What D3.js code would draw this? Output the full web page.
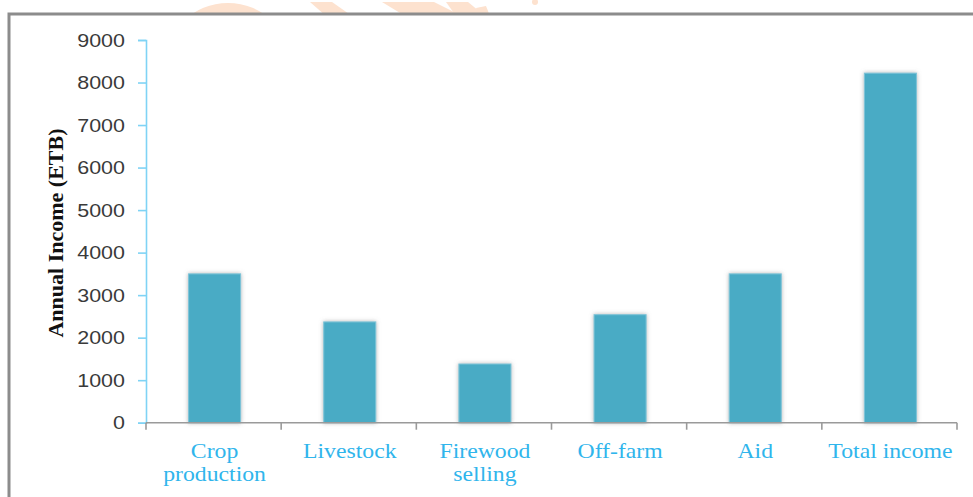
<!DOCTYPE html>
<html>
<head>
<meta charset="utf-8">
<script src="https://cdn.jsdelivr.net/npm/d3@7"></script>
<style>
  html, body { margin: 0; padding: 0; background: #ffffff; }
  svg { display: block; }
</style>
</head>
<body>
<svg id="chart" width="973" height="497"></svg>
<script>
// Income sources and mean annual income (ETB)
const categories = ["Crop production", "Livestock", "Firewood selling", "Off-farm", "Aid", "Total income"];
const categoryLines = [["Crop", "production"], ["Livestock"], ["Firewood", "selling"], ["Off-farm"], ["Aid"], ["Total income"]];
const incomeValues = [3500, 2370, 1380, 2540, 3500, 8220];
const yTicks = [0, 1000, 2000, 3000, 4000, 5000, 6000, 7000, 8000, 9000];

const svg = d3.select("#chart");
const W = 973, H = 497;
const plot = { left: 146, right: 957, top: 40, bottom: 422.7 };
const stretch = 1.13;

// faint page decoration peeking above the frame
const deco = svg.append("g").attr("fill", "#fde2cf");
deco.append("circle").attr("cx", 228).attr("cy", 67).attr("r", 64);
deco.append("path").attr("d", "M310,2 L332,2 L352,16 L326,16 Z");
deco.append("path").attr("d", "M382,2 L434,2 L462,16 L405,16 Z");
deco.append("path").attr("d", "M446,2 L468,2 L485,16 L456,16 Z");
deco.append("path").attr("d", "M476,8 L486,6 L490,16 L478,16 Z");
deco.append("circle").attr("cx", 535).attr("cy", 2).attr("r", 3);

// chart frame
svg.append("rect")
  .attr("x", 9).attr("y", 14)
  .attr("width", W + 20).attr("height", H + 20)
  .attr("fill", "#ffffff")
  .attr("stroke", "#8c8c8c")
  .attr("stroke-width", 3);

const defs = svg.append("defs");
const glow = defs.append("filter").attr("id", "barShadow")
  .attr("x", "-20%").attr("y", "-10%").attr("width", "140%").attr("height", "120%");
glow.append("feDropShadow")
  .attr("dx", 0).attr("dy", 0).attr("stdDeviation", 2.2)
  .attr("flood-color", "#7a7a7a").attr("flood-opacity", 0.55);

const x = d3.scaleBand()
  .domain(categories)
  .range([plot.left, plot.right])
  .paddingInner(0.615)
  .paddingOuter(0.3075);

const y = d3.scaleLinear()
  .domain([0, 9000])
  .range([plot.bottom, plot.top]);

// bars
svg.append("g")
  .selectAll("rect")
  .data(incomeValues)
  .join("rect")
  .attr("x", (d, i) => x(categories[i]) + 1)
  .attr("y", d => y(d))
  .attr("width", x.bandwidth())
  .attr("height", d => y(0) - y(d))
  .attr("fill", "#4aabc5")
  .attr("stroke", "#7fc4d8")
  .attr("stroke-width", 1)
  .attr("filter", "url(#barShadow)");

// y axis
const yAxis = svg.append("g")
  .attr("transform", `translate(${plot.left},0)`)
  .call(d3.axisLeft(y).tickValues(yTicks).tickSize(8).tickSizeOuter(8).tickFormat(d3.format("d")));
yAxis.select(".domain").attr("stroke", "#7fd3f5").attr("stroke-width", 1.6);
yAxis.selectAll(".tick line").attr("stroke", "#7fd3f5").attr("stroke-width", 1.6);
yAxis.selectAll(".tick text")
  .attr("x", 0)
  .attr("transform", `translate(-21,0) scale(${stretch},1)`)
  .attr("font-family", "'Liberation Sans', Arial, sans-serif")
  .attr("font-size", 19)
  .attr("fill", "#3a3a3a");

// x axis: category boundaries with ticks
const boundaries = categories.map(c => x(c) - x.step() * x.paddingInner() / 2)
  .concat([plot.right]);
const xAxis = svg.append("g");
xAxis.append("line")
  .attr("x1", plot.left).attr("x2", plot.right)
  .attr("y1", y(0)).attr("y2", y(0))
  .attr("stroke", "#9a9a9a").attr("stroke-width", 1.6);
xAxis.selectAll("line.b")
  .data(boundaries)
  .join("line")
  .attr("class", "b")
  .attr("x1", d => d).attr("x2", d => d)
  .attr("y1", y(0)).attr("y2", y(0) + 7)
  .attr("stroke", "#9a9a9a").attr("stroke-width", 1.6);

// category labels
const labels = svg.append("g")
  .attr("font-family", "'Liberation Serif', 'Times New Roman', serif")
  .attr("font-size", 21)
  .attr("fill", "#30b5ec")
  .attr("text-anchor", "middle");
categories.forEach((c, i) => {
  const cx = x(c) + x.bandwidth() / 2 + 1;
  categoryLines[i].forEach((line, j) => {
    labels.append("text")
      .attr("transform", `translate(${cx},${458 + j * 23}) scale(${stretch},1)`)
      .text(line);
  });
});

// y axis title
svg.append("text")
  .attr("transform", `translate(63,233) rotate(-90)`)
  .attr("text-anchor", "middle")
  .attr("font-family", "'Liberation Serif', 'Times New Roman', serif")
  .attr("font-weight", "bold")
  .attr("font-size", 22)
  .attr("fill", "#111111")
  .text("Annual Income (ETB)");
</script>
</body>
</html>
